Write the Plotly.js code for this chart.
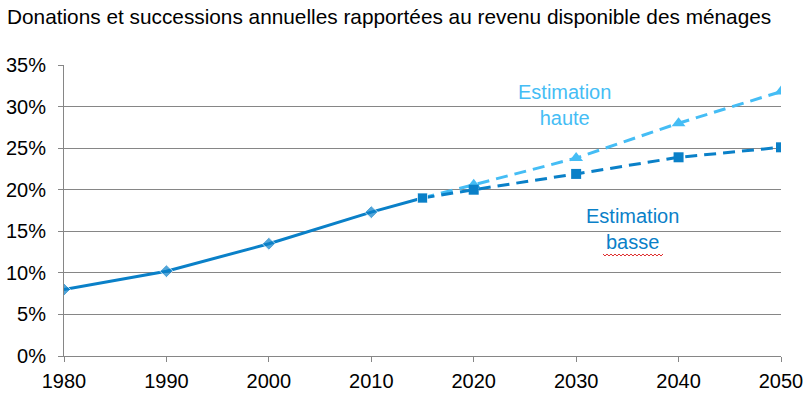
<!DOCTYPE html>
<html>
<head>
<meta charset="utf-8">
<script src="https://cdn.plot.ly/plotly-3.0.1.min.js"></script>
<style>html,body{margin:0;padding:0;background:#fff;}#chart{width:810px;height:398px;}</style>
</head>
<body>
<div id="chart"></div>
<script>
const histYears = [1980, 1990, 2000, 2010, 2015];
const histValues = [0.080, 0.102, 0.135, 0.173, 0.190];
const projYears = [2015, 2020, 2030, 2040, 2050];
const highValues = [0.190, 0.206, 0.238, 0.280, 0.318];
const lowValues = [0.190, 0.200, 0.219, 0.239, 0.251];
const xTicks = [1980, 1990, 2000, 2010, 2020, 2030, 2040, 2050];
const yTicks = [0, 0.05, 0.10, 0.15, 0.20, 0.25, 0.30, 0.35];
const yTickLabels = ['0%', '5%', '10%', '15%', '20%', '25%', '30%', '35%'];

const darkBlue = '#0A80C8';
const lightBlue = '#45BDF5';
const font = 'Liberation Sans, Arial, sans-serif';

const traces = [
  {
    x: projYears, y: highValues, type: 'scatter', mode: 'lines+markers',
    line: {color: lightBlue, width: 3, dash: '12px,7px'},
    marker: {symbol: 'triangle-up', size: 12, color: lightBlue,
             opacity: [0, 1, 1, 1, 1]},
    hoverinfo: 'skip'
  },
  {
    x: projYears, y: lowValues, type: 'scatter', mode: 'lines+markers',
    line: {color: darkBlue, width: 3, dash: '12px,7px'},
    marker: {symbol: 'square', size: 10, color: darkBlue},
    hoverinfo: 'skip'
  },
  {
    x: histYears, y: histValues, type: 'scatter', mode: 'lines+markers',
    line: {color: darkBlue, width: 3},
    marker: {symbol: ['diamond','diamond','diamond','diamond','square'], size: [10,10,10,10,10], color: darkBlue},
    hoverinfo: 'skip'
  }
];

// red spell-check squiggle under "basse" (paper coordinates)
function px2paperX(p) { return (p - 64) / 717; }
function px2paperY(p) { return (356 - p) / 291; }
let squiggle = '';
for (let i = 0, px = 603; px <= 664; px += 2, i++) {
  const py = (i % 2 === 0) ? 254 : 256;
  squiggle += (i === 0 ? 'M' : 'L') + px2paperX(px).toFixed(5) + ',' + px2paperY(py).toFixed(5) + ' ';
}

const layout = {
  width: 810, height: 398,
  margin: {l: 64, r: 29, t: 65, b: 42},
  paper_bgcolor: '#fff', plot_bgcolor: '#fff',
  showlegend: false,
  font: {family: font, size: 20, color: '#000'},
  title: {
    text: 'Donations et successions annuelles rapportées au revenu disponible des ménages',
    font: {family: font, size: 20.8, color: '#000'},
    x: 7 / 810, xanchor: 'left', xref: 'container', y: 1 - 17 / 398, yanchor: 'middle', yref: 'container'
  },
  xaxis: {
    range: [1980, 2050], tickmode: 'array', tickvals: xTicks, ticktext: xTicks.map(String),
    showgrid: false, zeroline: false, showline: true, linecolor: '#868686', linewidth: 1,
    ticks: 'outside', ticklen: 5, tickcolor: '#868686', ticklabelstandoff: 2,
    tickfont: {family: font, size: 20, color: '#000'}
  },
  yaxis: {
    range: [0, 0.35], tickmode: 'array', tickvals: yTicks, ticktext: yTickLabels,
    showgrid: true, gridcolor: '#868686', gridwidth: 1, zeroline: false,
    showline: true, linecolor: '#868686', linewidth: 1,
    ticks: 'outside', ticklen: 5, tickcolor: '#868686', ticklabelstandoff: 8,
    tickfont: {family: font, size: 20, color: '#000'}
  },
  annotations: [
    {x: 2028.9, y: 0.302, xref: 'x', yref: 'y', text: 'Estimation<br>haute', showarrow: false,
     font: {family: font, size: 20, color: lightBlue}, align: 'center'},
    {x: 2035.55, y: 0.153, xref: 'x', yref: 'y', text: 'Estimation<br>basse', showarrow: false,
     font: {family: font, size: 20, color: darkBlue}, align: 'center'}
  ],
  shapes: [
    {type: 'path', xref: 'paper', yref: 'paper', path: squiggle.trim(),
     line: {color: '#E03030', width: 1}}
  ]
};

Plotly.newPlot('chart', traces, layout, {displayModeBar: false, staticPlot: true});
</script>
</body>
</html>
